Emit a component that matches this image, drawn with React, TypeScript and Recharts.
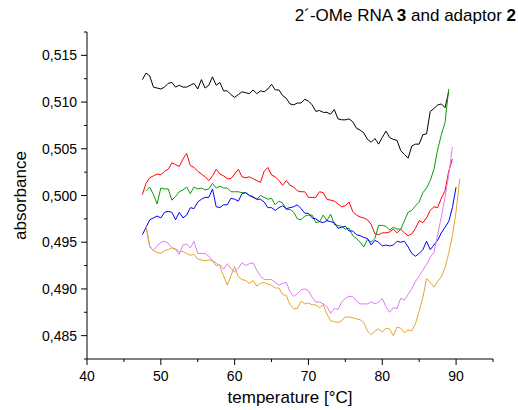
import React from 'react';
import { LineChart, Line, XAxis, YAxis, Label } from 'recharts';

const FONT = '"Liberation Sans", Arial, sans-serif';

const temps = [47.5, 48, 48.5, 49, 49.5, 50, 50.5, 51, 51.5, 52, 52.5, 53, 53.5, 54, 54.5, 55, 55.5, 56, 56.5, 57, 57.5, 58, 58.5, 59, 59.5, 60, 60.5, 61, 61.5, 62, 62.5, 63, 63.5, 64, 64.5, 65, 65.5, 66, 66.5, 67, 67.5, 68, 68.5, 69, 69.5, 70, 70.5, 71, 71.5, 72, 72.5, 73, 73.5, 74, 74.5, 75, 75.5, 76, 76.5, 77, 77.5, 78, 78.5, 79, 79.5, 80, 80.5, 81, 81.5, 82, 82.5, 83, 83.5, 84, 84.5, 85, 85.5, 86, 86.5, 87, 87.5, 88, 88.5, 89, 89.5, 90, 90.5];

// from 47.5
const black = [0.5124, 0.5131, 0.5128, 0.5116, 0.5115, 0.5114, 0.5116, 0.5120, 0.5121, 0.5116, 0.5118, 0.5116, 0.5116, 0.5118, 0.5120, 0.5114, 0.5124, 0.5115, 0.5118, 0.5127, 0.5118, 0.5121, 0.5112, 0.5112, 0.5108, 0.5105, 0.5108, 0.5111, 0.5110, 0.5109, 0.5113, 0.5109, 0.5112, 0.5111, 0.5114, 0.5119, 0.5113, 0.5113, 0.5107, 0.5104, 0.5098, 0.5097, 0.5099, 0.5099, 0.5103, 0.5101, 0.5097, 0.5090, 0.5091, 0.5089, 0.5089, 0.5087, 0.5092, 0.5082, 0.5081, 0.5081, 0.5082, 0.5079, 0.5072, 0.5070, 0.5067, 0.5060, 0.5057, 0.5061, 0.5055, 0.5062, 0.5069, 0.5062, 0.5060, 0.5059, 0.5048, 0.5044, 0.5040, 0.5053, 0.5055, 0.5055, 0.5065, 0.5066, 0.5090, 0.5093, 0.5097, 0.5098, 0.5094, 0.5111];

// from 47.5
const red = [0.5001, 0.5013, 0.5019, 0.5021, 0.5023, 0.5022, 0.5026, 0.5028, 0.5035, 0.5033, 0.5031, 0.5039, 0.5045, 0.5032, 0.5030, 0.5026, 0.5023, 0.5020, 0.5016, 0.5021, 0.5028, 0.5023, 0.5021, 0.5018, 0.5018, 0.5023, 0.5028, 0.5020, 0.5019, 0.5020, 0.5018, 0.5016, 0.5014, 0.5026, 0.5030, 0.5022, 0.5020, 0.5016, 0.5011, 0.5016, 0.5011, 0.5009, 0.5005, 0.5004, 0.5004, 0.4998, 0.4998, 0.4998, 0.5004, 0.5003, 0.4996, 0.4995, 0.4994, 0.4991, 0.4988, 0.4989, 0.4993, 0.4983, 0.4979, 0.4977, 0.4976, 0.4974, 0.4969, 0.4959, 0.4958, 0.4960, 0.4960, 0.4961, 0.4964, 0.4960, 0.4964, 0.4960, 0.4957, 0.4959, 0.4965, 0.4973, 0.4971, 0.4976, 0.4984, 0.4988, 0.4987, 0.4997, 0.5005, 0.5026, 0.5039];

// from 47.5 (starts at 48)
const green = [null, 0.5005, 0.5009, 0.5001, 0.4991, 0.5008, 0.5007, 0.5007, 0.4995, 0.4999, 0.5004, 0.5006, 0.5009, 0.5002, 0.5009, 0.5007, 0.5008, 0.5006, 0.5007, 0.5013, 0.5008, 0.5010, 0.5008, 0.5008, 0.5004, 0.5004, 0.5004, 0.5003, 0.5003, 0.5000, 0.4999, 0.4996, 0.5000, 0.4998, 0.4996, 0.4997, 0.4990, 0.4994, 0.4992, 0.4985, 0.4985, 0.4982, 0.4975, 0.4974, 0.4978, 0.4979, 0.4979, 0.4971, 0.4972, 0.4979, 0.4973, 0.4980, 0.4969, 0.4968, 0.4967, 0.4964, 0.4965, 0.4957, 0.4954, 0.4950, 0.4945, 0.4953, 0.4950, 0.4954, 0.4968, 0.4968, 0.4967, 0.4963, 0.4966, 0.4964, 0.4964, 0.4973, 0.4982, 0.4984, 0.4989, 0.4993, 0.5003, 0.5008, 0.5016, 0.5028, 0.5049, 0.5065, 0.5078, 0.5114];

// from 47.5
const blue = [0.4958, 0.4966, 0.4974, 0.4976, 0.4978, 0.4976, 0.4982, 0.4983, 0.4982, 0.4974, 0.4982, 0.4976, 0.4979, 0.4987, 0.4986, 0.4993, 0.4996, 0.4998, 0.4998, 0.5007, 0.4988, 0.4987, 0.4990, 0.4990, 0.4997, 0.4996, 0.4994, 0.5002, 0.5003, 0.5000, 0.4998, 0.4996, 0.4996, 0.4993, 0.4987, 0.4987, 0.4984, 0.4987, 0.4989, 0.4986, 0.4987, 0.4988, 0.4990, 0.4986, 0.4981, 0.4981, 0.4976, 0.4975, 0.4972, 0.4971, 0.4973, 0.4972, 0.4971, 0.4965, 0.4966, 0.4967, 0.4962, 0.4962, 0.4958, 0.4957, 0.4955, 0.4954, 0.4947, 0.4952, 0.4950, 0.4946, 0.4947, 0.4946, 0.4947, 0.4951, 0.4950, 0.4951, 0.4945, 0.4938, 0.4935, 0.4938, 0.4942, 0.4951, 0.4942, 0.4947, 0.4952, 0.4960, 0.4966, 0.4972, 0.4987, 0.5009];

// from 47.5 (starts at 48)
const violet = [null, 0.4968, 0.4946, 0.4941, 0.4946, 0.4950, 0.4951, 0.4949, 0.4944, 0.4942, 0.4937, 0.4947, 0.4948, 0.4944, 0.4951, 0.4938, 0.4938, 0.4938, 0.4935, 0.4930, 0.4925, 0.4926, 0.4921, 0.4927, 0.4922, 0.4918, 0.4922, 0.4928, 0.4925, 0.4927, 0.4928, 0.4920, 0.4914, 0.4910, 0.4910, 0.4910, 0.4907, 0.4904, 0.4906, 0.4907, 0.4897, 0.4892, 0.4895, 0.4899, 0.4900, 0.4898, 0.4891, 0.4886, 0.4886, 0.4884, 0.4881, 0.4874, 0.4879, 0.4878, 0.4886, 0.4890, 0.4892, 0.4892, 0.4887, 0.4884, 0.4884, 0.4884, 0.4886, 0.4884, 0.4886, 0.4890, 0.4881, 0.4875, 0.4880, 0.4879, 0.4890, 0.4888, 0.4894, 0.4900, 0.4908, 0.4914, 0.4920, 0.4926, 0.4934, 0.4939, 0.4958, 0.4977, 0.4998, 0.5022, 0.5052];

// from 47.5 (starts at 48)
const orange = [null, 0.4966, 0.4945, 0.4941, 0.4939, 0.4938, 0.4941, 0.4942, 0.4944, 0.4943, 0.4940, 0.4940, 0.4938, 0.4936, 0.4937, 0.4932, 0.4931, 0.4930, 0.4931, 0.4930, 0.4928, 0.4924, 0.4914, 0.4904, 0.4914, 0.4924, 0.4913, 0.4910, 0.4909, 0.4906, 0.4909, 0.4903, 0.4906, 0.4907, 0.4905, 0.4904, 0.4901, 0.4901, 0.4894, 0.4893, 0.4883, 0.4879, 0.4879, 0.4887, 0.4884, 0.4885, 0.4883, 0.4883, 0.4880, 0.4883, 0.4873, 0.4866, 0.4865, 0.4864, 0.4866, 0.4870, 0.4870, 0.4869, 0.4868, 0.4867, 0.4864, 0.4855, 0.4851, 0.4855, 0.4857, 0.4854, 0.4858, 0.4857, 0.4850, 0.4859, 0.4858, 0.4853, 0.4856, 0.4855, 0.4863, 0.4876, 0.4891, 0.4911, 0.4907, 0.4902, 0.4908, 0.4913, 0.4923, 0.4938, 0.4957, 0.4983, 0.5018];

const xTicks = [40, 45, 50, 55, 60, 65, 70, 75, 80, 85, 90, 95];
const yTicks = [0.4825, 0.485, 0.4875, 0.49, 0.4925, 0.495, 0.4975, 0.5, 0.5025, 0.505, 0.5075, 0.51, 0.5125, 0.515, 0.5175];

const seriesDefs = [
  { key: 'black', values: black, color: '#000000' },
  { key: 'red', values: red, color: '#ff0000' },
  { key: 'green', values: green, color: '#0a9a0a' },
  { key: 'blue', values: blue, color: '#0000ff' },
  { key: 'violet', values: violet, color: '#e07af5' },
  { key: 'orange', values: orange, color: '#e6a52c' },
];

const data = temps.map((t, i) => {
  const row: Record<string, number | null> = { t };
  seriesDefs.forEach((s) => {
    const v = s.values[i];
    row[s.key] = v === undefined ? null : v;
  });
  return row;
});

const TS = 6;
const TM = 2;

const XTick = (props: any) => {
  const { x, y, payload } = props;
  const axisY = y - TS - TM;
  const major = Math.round(payload.value) % 10 === 0;
  return (
    <g>
      <line x1={x} x2={x} y1={axisY} y2={axisY + (major ? 6 : 3)} stroke="#000" strokeWidth={1} />
      {major && payload.value !== 95 ? (
        <text x={x} y={axisY + 22} textAnchor="middle" fontSize={14} fontFamily={FONT} fill="#000">
          {payload.value}
        </text>
      ) : null}
    </g>
  );
};

const YTick = (props: any) => {
  const { x, y, payload } = props;
  const axisX = x + TS + TM;
  const thousandths = Math.round(payload.value * 10000);
  const major = thousandths % 50 === 0;
  return (
    <g>
      <line x1={axisX} x2={axisX - (major ? 6 : 3)} y1={y} y2={y} stroke="#000" strokeWidth={1} />
      {major ? (
        <text x={axisX - 10} y={y + 5} textAnchor="end" fontSize={14} fontFamily={FONT} fill="#000">
          {payload.value.toFixed(3).replace('.', ',')}
        </text>
      ) : null}
    </g>
  );
};

export default function App() {
  return (
    <div style={{ position: 'absolute', left: 0, top: 0, width: 518, height: 410, background: '#fff', fontFamily: FONT }}>
      <LineChart width={518} height={410} data={data} margin={{ top: 32, right: 25, bottom: 0, left: 0 }}>
        <XAxis
          dataKey="t"
          type="number"
          domain={[40, 95]}
          ticks={xTicks}
          interval={0}
          tick={<XTick />}
          tickLine={false}
          tickSize={TS}
          tickMargin={TM}
          axisLine={{ stroke: '#000', strokeWidth: 1 }}
          height={51}
          allowDataOverflow
        >
          <Label value="temperature [°C]" position="insideBottom" offset={7} style={{ fontSize: 17, fontFamily: FONT, fill: '#000' }} />
        </XAxis>
        <YAxis
          type="number"
          domain={[0.4825, 0.5175]}
          ticks={yTicks}
          interval={0}
          tick={<YTick />}
          tickLine={false}
          tickSize={TS}
          tickMargin={TM}
          axisLine={{ stroke: '#000', strokeWidth: 1 }}
          width={87}
          allowDataOverflow
        >
          <Label value="absorbance" angle={-90} position="insideLeft" offset={20} style={{ fontSize: 17, fontFamily: FONT, fill: '#000', textAnchor: 'middle' }} />
        </YAxis>
        {seriesDefs.map((s) => (
          <Line
            key={s.key}
            dataKey={s.key}
            type="linear"
            stroke={s.color}
            strokeWidth={1}
            dot={false}
            activeDot={false}
            isAnimationActive={false}
            connectNulls={false}
          />
        ))}
      </LineChart>
      <div style={{ position: 'absolute', right: 2, top: 6, fontSize: 17, fontFamily: FONT, color: '#000', whiteSpace: 'nowrap' }}>
        2´-OMe RNA <b>3</b> and adaptor <b>2</b>
      </div>
    </div>
  );
}
